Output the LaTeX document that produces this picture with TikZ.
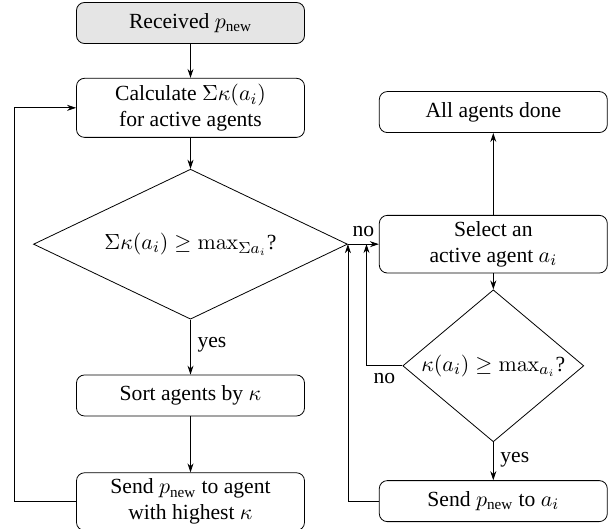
\documentclass[tikz,border=0pt]{standalone}
\usepackage{amsmath,amssymb}
\usepackage[no-math]{fontspec}
\setmainfont{Liberation Serif}
\usepackage{xcolor}
\usepackage{tikz}
\usetikzlibrary{arrows.meta,positioning,shapes.geometric,calc}

\begin{document}
\begin{tikzpicture}[
  font=\fontsize{10.8}{13}\selectfont,
  box/.style={draw, rounded corners=4pt, align=center, minimum width=114pt,
              minimum height=20.5pt, inner sep=3pt},
  decision/.style={draw, diamond, align=center, inner sep=0pt},
  >={Stealth[length=4.5pt,width=3pt]}]
\useasboundingbox (0,0) rectangle (308pt,-264.5pt);
% left column
\node[box, fill=gray!20] (recv) at (95.25pt,-11.5pt) {Received $p_{\text{new}}$};
\node[box, below=17pt of recv] (calc) {Calculate $\Sigma\kappa(a_i)$\\for active agents};
\node[decision, below=15.5pt of calc, aspect=2.1, minimum width=157pt, minimum height=75pt] (dec1)
  {$\Sigma\kappa(a_i) \geq \max_{\Sigma a_i}$?};
\node[box, below=27.5pt of dec1] (sort) {Sort agents by $\kappa$};
\node[box, below=28pt of sort] (sendh) {Send $p_{\text{new}}$ to agent\\with highest $\kappa$};
% right column
\node[box, right=15.5pt of dec1] (sel) {Select an\\active agent $a_i$};
\node[box, above=41pt of sel] (done) {All agents done};
\node[decision, below=8pt of sel, aspect=1.2, minimum width=90.5pt, minimum height=76pt] (dec2)
  {$\kappa(a_i) \geq \max_{a_i}$?};
\node[box, below=19pt of dec2] (senda) {Send $p_{\text{new}}$ to $a_i$};
\coordinate (join) at ($(dec1.east)!0.6!(sel.west)$);

\draw[->] (recv) -- (calc);
\draw[->] (calc) -- (dec1);
\draw[->] (dec1) -- node[right, pos=0.45] {yes} (sort);
\draw[->] (sort) -- (sendh);
\draw[->] (sendh.west) -- ++(-31pt,0) |- (calc.west);
\draw[->] (dec1.east) -- node[above] {no} (sel.west);
\draw[->] (sel) -- (done);
\draw[->] (sel) -- (dec2);
\draw[->] (dec2) -- node[right, pos=0.45] {yes} (senda);
\draw[->] (dec2.west) -| node[below, pos=0.25] {no} (join);
\draw[->] (senda.west) -| (dec1.east);
\end{tikzpicture}
\end{document}
